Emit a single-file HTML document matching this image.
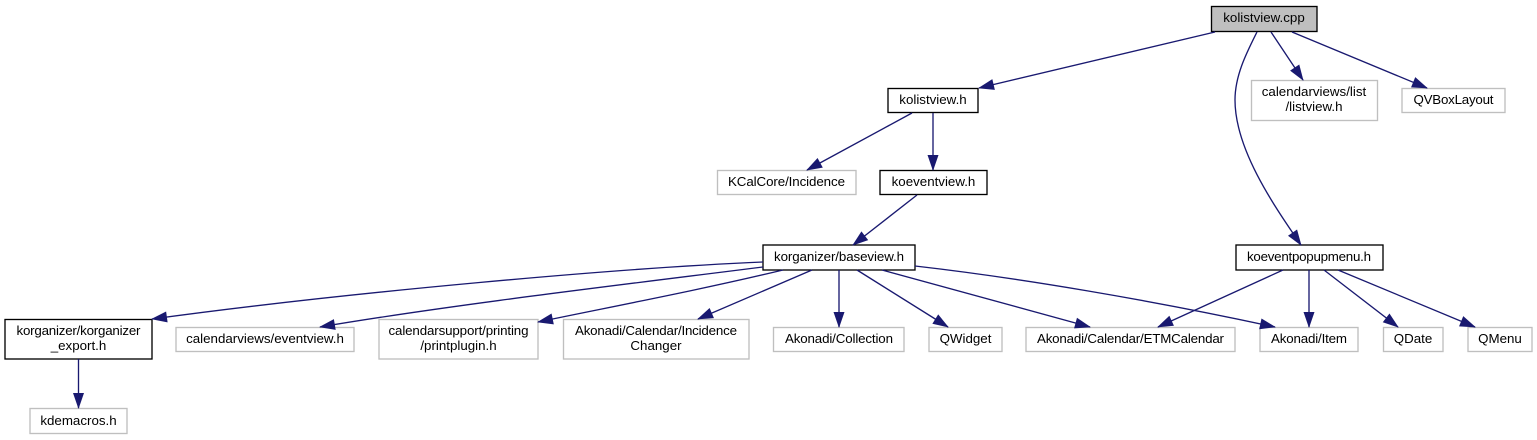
<!DOCTYPE html>
<html>
<head>
<meta charset="utf-8">
<style>
html,body{margin:0;padding:0;background:#fff;}
svg{display:block;}
text{font-family:"Liberation Sans",sans-serif;font-size:13.33px;fill:#000;text-anchor:middle;}
.b{fill:#fff;stroke:#000;stroke-width:1.33;}
.g{fill:#fff;stroke:#bfbfbf;stroke-width:1.33;}
.e{fill:none;stroke:#191970;stroke-width:1.33;marker-end:url(#a);}
</style>
</head>
<body>
<svg width="1537" height="440" viewBox="0 0 1537 440" xmlns="http://www.w3.org/2000/svg">
<rect width="1537" height="440" fill="#fff"/>

<!-- nodes -->
<rect x="1211.5" y="6.5" width="105.5" height="25" fill="#bfbfbf" stroke="#000" stroke-width="1.33"/>
<text x="1264" y="22">kolistview.cpp</text>

<rect class="b" x="888" y="88.5" width="90" height="24"/>
<text x="933" y="104">kolistview.h</text>

<rect class="g" x="1251.5" y="80.5" width="126" height="40"/>
<text x="1314" y="96">calendarviews/list</text>
<text x="1314" y="111">/listview.h</text>

<rect class="g" x="1402" y="88.5" width="103" height="24"/>
<text x="1453.5" y="104" textLength="80">QVBoxLayout</text>

<rect class="g" x="717.5" y="170.5" width="138.5" height="24"/>
<text x="786.5" y="186" textLength="117">KCalCore/Incidence</text>

<rect class="b" x="880" y="170.5" width="107" height="24"/>
<text x="933.5" y="186">koeventview.h</text>

<rect class="b" x="763" y="245" width="152" height="25"/>
<text x="839" y="261" textLength="130">korganizer/baseview.h</text>

<rect class="b" x="1236" y="245" width="147" height="25"/>
<text x="1309" y="261" textLength="124">koeventpopupmenu.h</text>

<rect class="b" x="5" y="319.5" width="147" height="39.5"/>
<text x="78.5" y="335" textLength="124">korganizer/korganizer</text>
<text x="78.5" y="350">_export.h</text>

<rect class="g" x="176" y="327.5" width="178" height="24"/>
<text x="265" y="343">calendarviews/eventview.h</text>

<rect class="g" x="379" y="319.5" width="159" height="39.5"/>
<text x="458.5" y="335" textLength="140">calendarsupport/printing</text>
<text x="458.5" y="350">/printplugin.h</text>

<rect class="g" x="563.5" y="319.5" width="185.5" height="39.5"/>
<text x="656" y="335" textLength="162">Akonadi/Calendar/Incidence</text>
<text x="656" y="350">Changer</text>

<rect class="g" x="773.5" y="327.5" width="130.5" height="24"/>
<text x="839" y="343" textLength="108">Akonadi/Collection</text>

<rect class="g" x="929" y="327.5" width="73" height="24"/>
<text x="965.5" y="343">QWidget</text>

<rect class="g" x="1026" y="327.5" width="209" height="24"/>
<text x="1130.5" y="343" textLength="187">Akonadi/Calendar/ETMCalendar</text>

<rect class="g" x="1260" y="327.5" width="98" height="24"/>
<text x="1309" y="343" textLength="76">Akonadi/Item</text>

<rect class="g" x="1383.5" y="327.5" width="59.5" height="24"/>
<text x="1413" y="343">QDate</text>

<rect class="g" x="1468" y="327.5" width="64" height="24"/>
<text x="1500" y="343">QMenu</text>

<rect class="g" x="30" y="408.5" width="97" height="25"/>
<text x="78.5" y="425">kdemacros.h</text>

<!-- edges -->
<defs>
<marker id="a" markerUnits="userSpaceOnUse" markerWidth="20" markerHeight="14" refX="15" refY="6" orient="auto" overflow="visible">
<polygon points="0,0.5 16,6 0,11.5" fill="#191970"/>
</marker>
</defs>
<path class="e" d="M1215,32L979,88"/>
<path class="e" d="M1257,32C1247,52 1235,75 1235,100C1235,150 1275,207 1301,245"/>
<path class="e" d="M1271,32L1303,80"/>
<path class="e" d="M1292,32L1427,88"/>
<path class="e" d="M912,113L807,170"/>
<path class="e" d="M933,113L933,170"/>
<path class="e" d="M917,195L853,245"/>
<path class="e" d="M763,262C620,268 350,292 152,319"/>
<path class="e" d="M763,267C620,285 450,305 320,327"/>
<path class="e" d="M783,270C700,290 610,307 538,322"/>
<path class="e" d="M812,270L698,319"/>
<path class="e" d="M839,270L839,327"/>
<path class="e" d="M857,270L948,327"/>
<path class="e" d="M882,270L1090,327"/>
<path class="e" d="M915,266C1020,278 1150,300 1275,327"/>
<path class="e" d="M1283,270L1158,327"/>
<path class="e" d="M1309,270L1309,327"/>
<path class="e" d="M1324,270L1398,327"/>
<path class="e" d="M1338,270L1475,327"/>
<path class="e" d="M78.5,359L78.5,408"/>
</svg>
</body>
</html>
